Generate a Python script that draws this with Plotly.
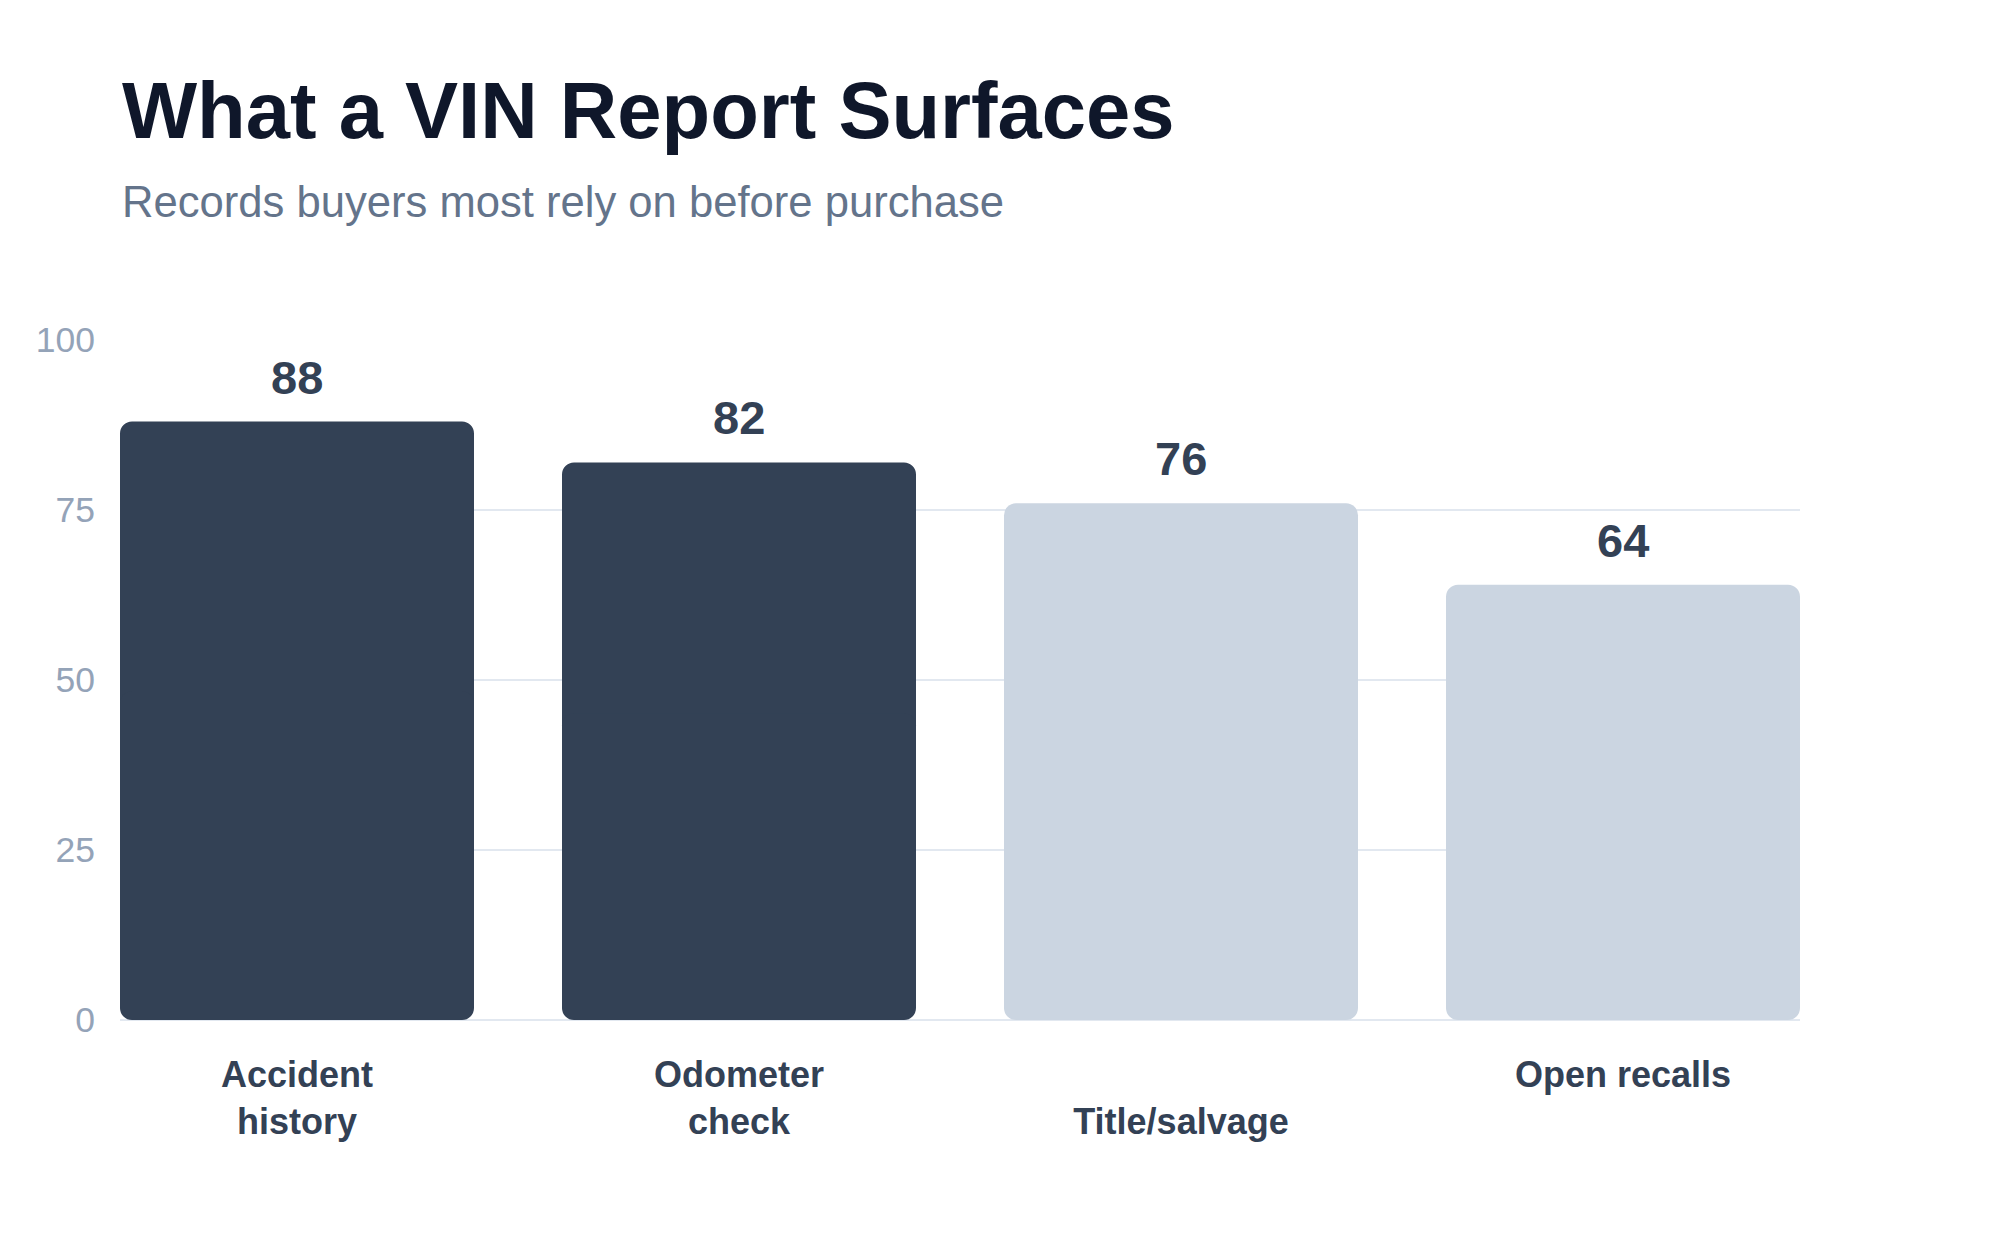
import plotly.graph_objects as go

# chart data
categories = ["Accident history", "Odometer check", "Title/salvage", "Open recalls"]
tick_labels = ["Accident<br>history", "Odometer<br>check", " <br>Title/salvage", "Open recalls"]
shares = [88, 82, 76, 64]
highlighted = [True, True, False, False]
y_ticks = [0, 25, 50, 75, 100]

DARK = "#334155"
LIGHT = "#cbd5e1"
FONT = "Liberation Sans, Arial, Helvetica, sans-serif"

# 442 px per category and 354 px bars on a 1680 px plot: bar edges land on whole pixels
BAR_W = 354 / 442

bar_colors = [DARK if h else LIGHT for h in highlighted]

# each bar is drawn as two overlapping halves so that both ends get rounded corners
upper_base = [v * 0.45 for v in shares]
upper_len = [v - b for v, b in zip(shares, upper_base)]
lower_base = [v * 0.55 for v in shares]
lower_len = [-b for b in lower_base]

fig = go.Figure()
fig.add_trace(go.Bar(
    x=categories, y=upper_len, base=upper_base,
    width=BAR_W,
    marker=dict(color=bar_colors, line=dict(width=0), cornerradius=12),
    customdata=shares, hovertemplate="%{x}: %{customdata}<extra></extra>",
    showlegend=False,
))
fig.add_trace(go.Bar(
    x=categories, y=lower_len, base=lower_base,
    width=BAR_W,
    marker=dict(color=bar_colors, line=dict(width=0), cornerradius=12),
    hoverinfo="skip",
    showlegend=False,
))

# value labels above the bars
for cat, val in zip(categories, shares):
    fig.add_annotation(
        x=cat, y=val, xref="x", yref="y",
        text=f"<b>{val}</b>", showarrow=False,
        yanchor="bottom", yshift=16,
        font=dict(family=FONT, size=47, color=DARK),
    )

# title and subtitle
fig.add_annotation(
    x=0, y=1.337, xref="paper", yref="paper", xanchor="left", yanchor="middle",
    text="<b>What a VIN Report Surfaces</b>", showarrow=False,
    font=dict(family=FONT, size=79.6, color="#0f172a"),
)
fig.add_annotation(
    x=0, y=1.203, xref="paper", yref="paper", xanchor="left", yanchor="middle",
    text="Records buyers most rely on before purchase", showarrow=False,
    font=dict(family=FONT, size=43.6, color="#64748b"),
)

fig.update_layout(
    width=2000, height=1240,
    margin=dict(l=112, r=208, t=332, b=228),
    paper_bgcolor="white", plot_bgcolor="white",
    font=dict(family=FONT),
    barmode="overlay",
)
fig.update_xaxes(
    range=[-BAR_W / 2, 3 + BAR_W / 2],
    tickmode="array", tickvals=categories, ticktext=tick_labels,
    tickfont=dict(family=FONT, size=36, color=DARK, weight="bold"),
    showgrid=False, showline=False, ticks="", ticklabelstandoff=30,
)
fig.update_yaxes(
    range=[0, 100],
    tickmode="array", tickvals=y_ticks,
    tickfont=dict(family=FONT, size=35.5, color="#94a3b8"),
    showgrid=True, gridcolor="#e2e8f0", gridwidth=2,
    zeroline=True, zerolinecolor="#e2e8f0", zerolinewidth=2,
    showline=False, ticks="", ticklabelstandoff=24,
)

fig.write_html("out.html")
